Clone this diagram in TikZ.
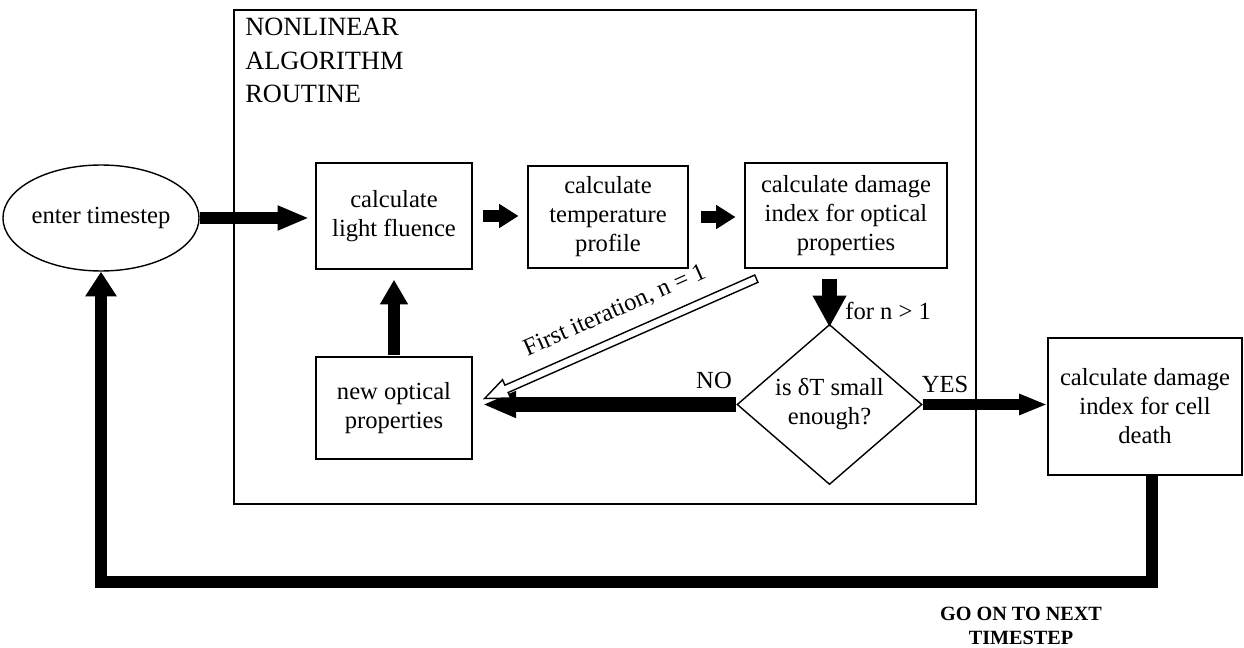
\documentclass[tikz,border=0pt]{standalone}
\usepackage{fontspec}
\setmainfont{Liberation Serif}
\usetikzlibrary{arrows.meta,shapes.geometric,calc}
\begin{document}
\begin{tikzpicture}[x=0.02cm,y=-0.02cm,
  txt/.style={font=\fontsize{14}{16.5}\selectfont},
  box/.style={draw, line width=0.8pt, align=center, inner sep=0pt, txt},
  fat/.style={line width=6.5pt, -{Triangle[length=18pt,width=13pt]}},
  stub/.style={line width=6.5pt, -{Triangle[length=11pt,width=13pt]}},
  open/.style={draw, line width=0.8pt, fill=white, line join=miter}
]
\useasboundingbox (0,0) rectangle (1244,648);
% frame of the routine
\draw[line width=0.8pt] (234,10) rectangle (976,504);
\node[anchor=north west, align=left, inner sep=0pt, font=\fontsize{15}{19}\selectfont] (title) at (245,18) {NONLINEAR\\ALGORITHM\\ROUTINE};
% nodes
\node[box, ellipse, minimum width=3.68cm, minimum height=2.12cm] (ent) at (101,218) {enter timestep};
\node[box, minimum width=3.12cm, minimum height=2.12cm] (lf) at (394,216) {calculate\\light fluence};
\node[box, minimum width=3.2cm, minimum height=2.04cm] (tp) at (608,217) {calculate\\temperature\\profile};
\node[box, minimum width=4.04cm, minimum height=2.1cm] (dmg) at (846,215.5) {calculate damage\\index for optical\\properties};
\node[box, minimum width=3.12cm, minimum height=2.04cm] (nop) at (394,408) {new optical\\properties};
\node[box, diamond, minimum width=3.7cm, minimum height=2.5cm] (dia) at (829.5,404.5) {is δT small\\enough?};
\node[box, minimum width=3.88cm, minimum height=2.74cm] (cell) at (1145,406.5) {calculate damage\\index for cell\\death};
% labels
\node[txt, anchor=west, inner sep=0pt] (lfor) at (845,311) {for n > 1};
\node[txt, inner sep=0pt] (lno) at (714,380) {NO};
\node[txt, inner sep=0pt] (lyes) at (945,384) {YES};
\node[align=center, inner sep=0pt, font=\bfseries\fontsize{11.5}{14}\selectfont] (lgo) at (1021,626) {GO ON TO NEXT\\TIMESTEP};
% connectors
\draw[fat, shorten >=3.5pt] (ent.east) -- (ent.east -| lf.west);
\draw[stub, shorten <=6pt, shorten >=5pt] (lf.east) -- (lf.east -| tp.west);
\draw[stub, shorten <=7pt, shorten >=5pt] (tp.east) -- (tp.east -| dmg.west);
\draw[line width=8pt, -{Triangle[length=18pt,width=18pt]}, shorten <=5.7pt, shorten >=-2pt] (dia.north |- dmg.south) -- (dia.north);
\draw[line width=7pt, -{Triangle[length=14pt,width=15pt]}, shorten <=1pt, shorten >=5.7pt] (nop.north) -- (lf.south);
\draw[line width=8pt, -{Triangle[length=19pt,width=14pt]}, shorten >=5.7pt] (dia.west) -- (dia.west -| nop.east);
\draw[line width=6.5pt, -{Triangle[length=16pt,width=11pt]}] (dia.east) -- (dia.east -| cell.west);
\coordinate (cs) at ($(cell.south)+(7,0)$);
\coordinate (bot) at (600,582);
\draw[line width=6.8pt, line join=miter, -{Triangle[length=14pt,width=17pt]}] (cs) -- (cs |- bot) -| (ent.south);
% first iteration open arrow
\coordinate (fs) at ($(dmg.south west)+(12,10)$);
\coordinate (fe) at ($(nop.east)+(11,-10)$);
\begin{scope}[shift={(fs)}, rotate=203.8]
\path[open] (0,-4) -- (273,-4) -- (273,-10) -- (297,0) -- (273,10) -- (273,4) -- (0,4) -- cycle;
\end{scope}
\node[txt, inner sep=0pt, rotate=23.8] (lfirst) at (615,311) {First iteration, n = 1};
\end{tikzpicture}
\end{document}
